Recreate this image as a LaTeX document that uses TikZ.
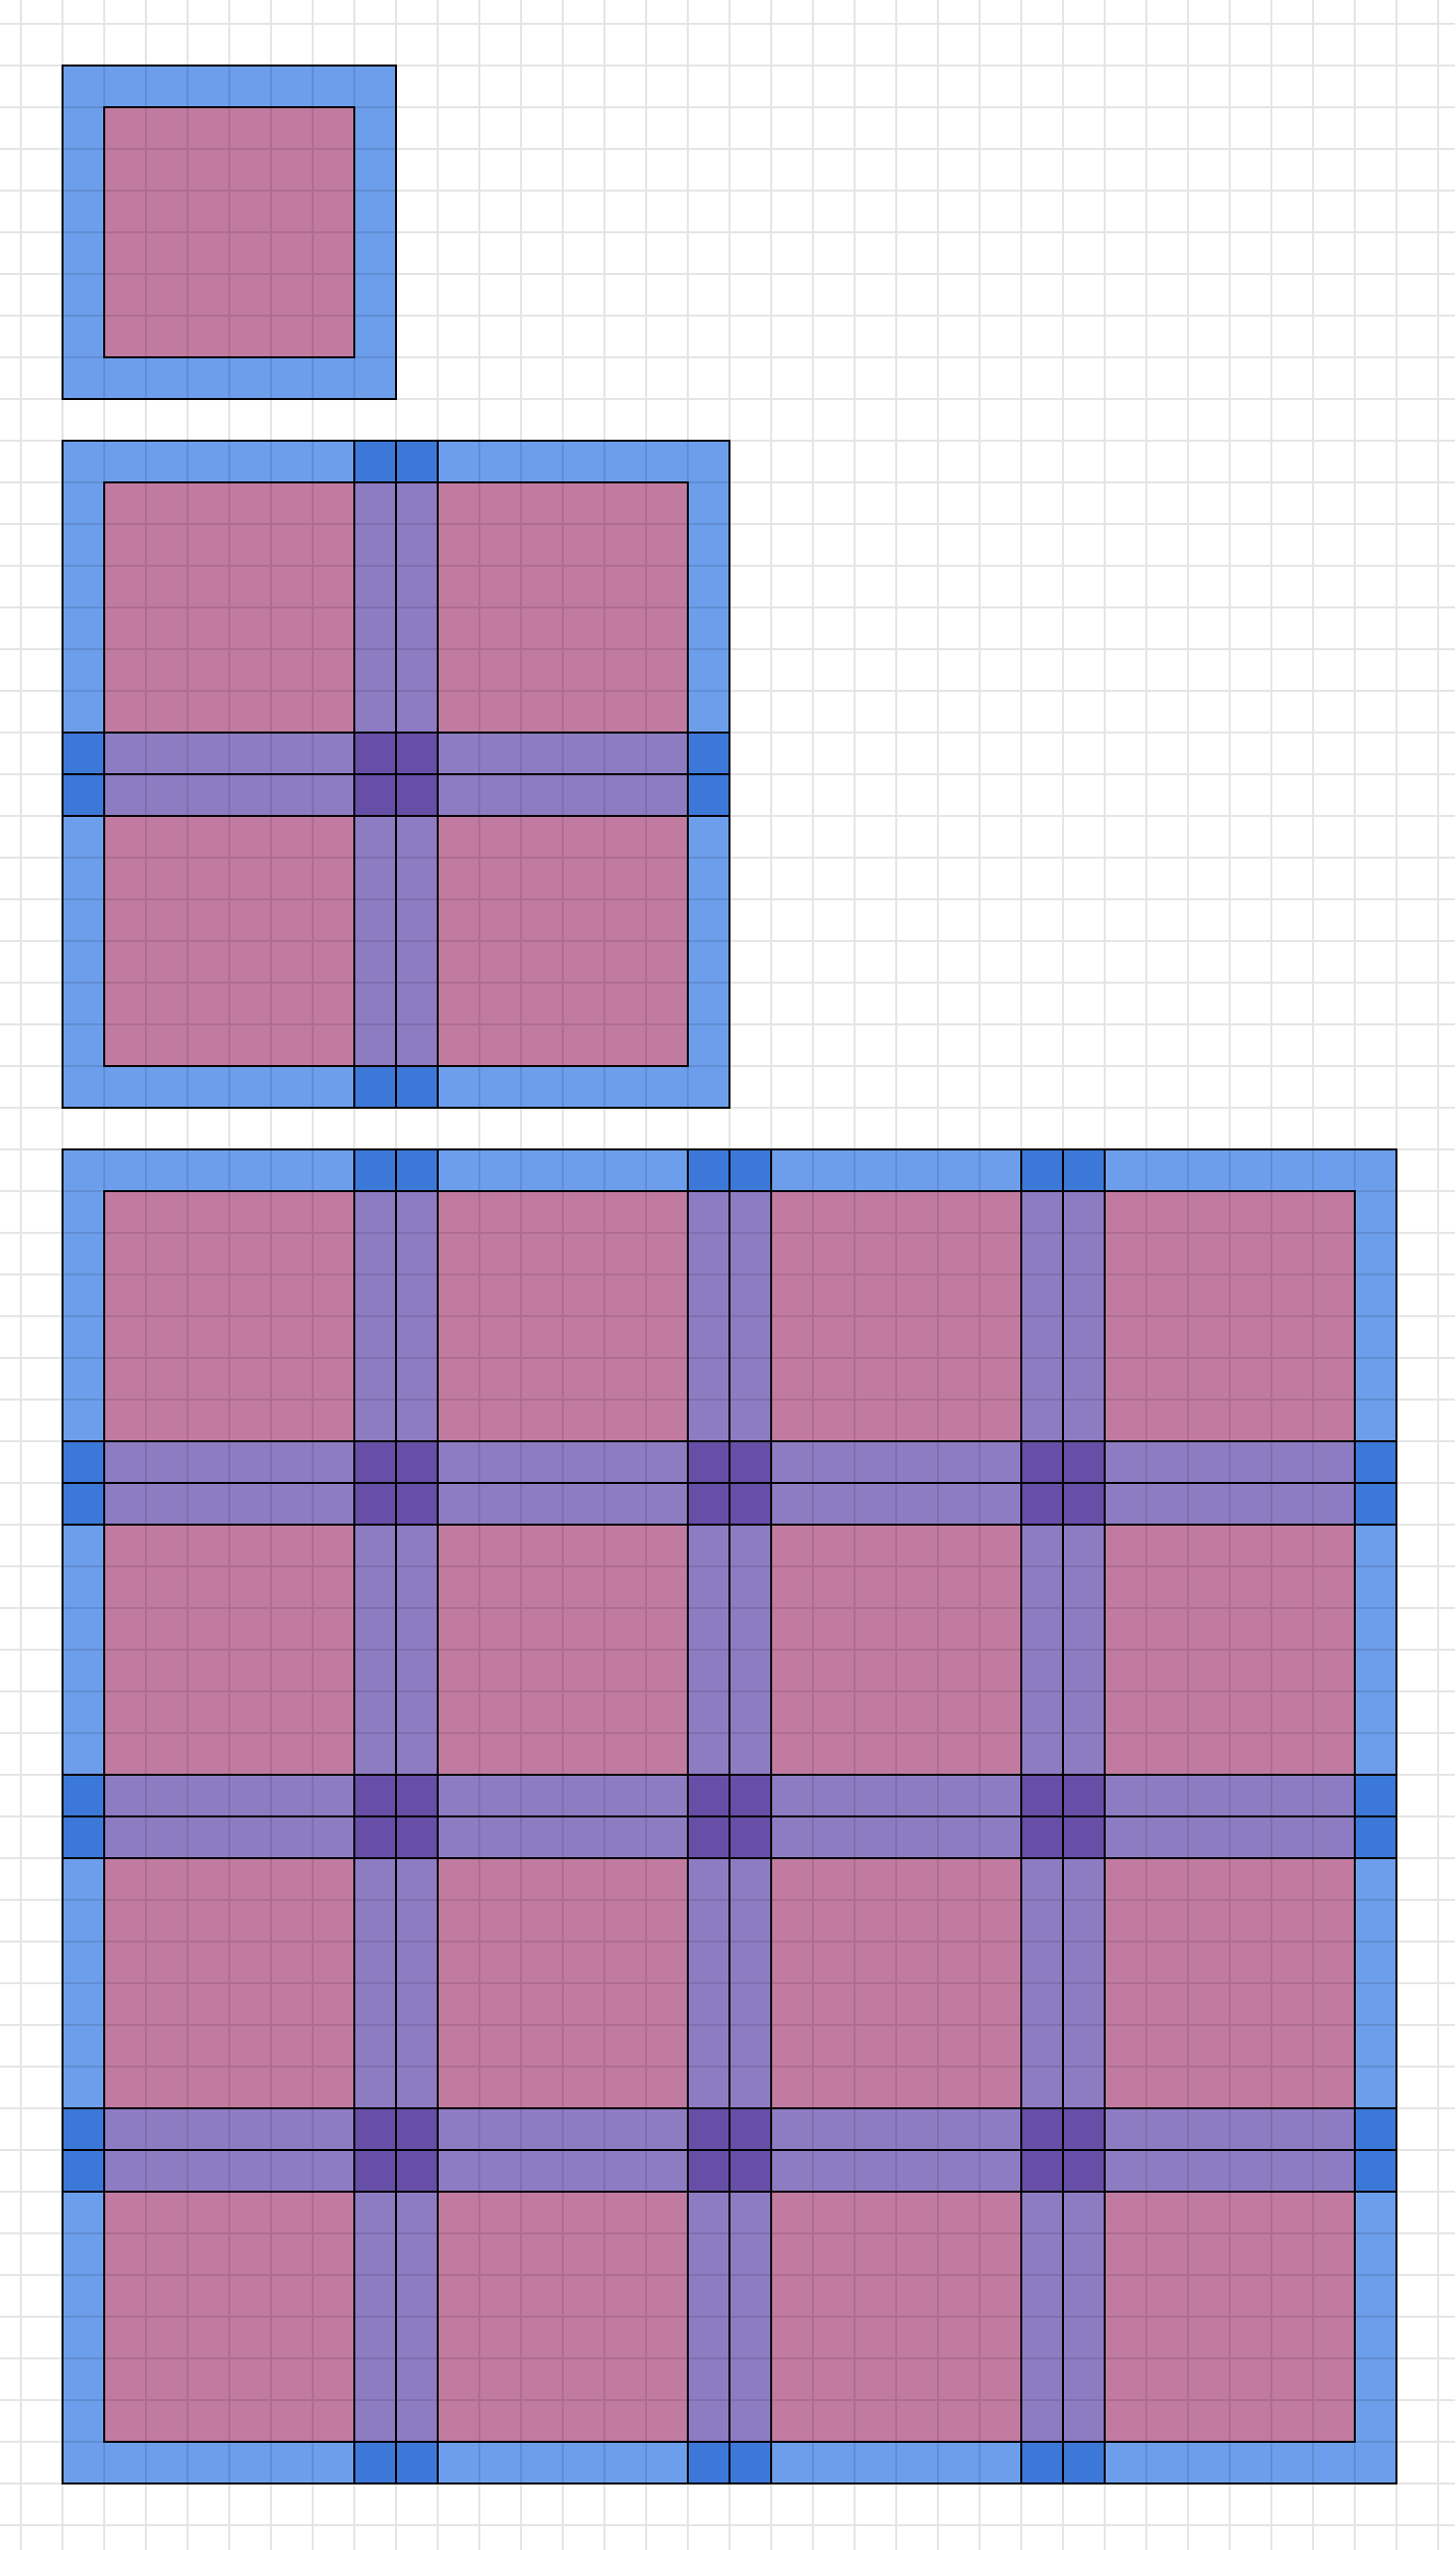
\documentclass[tikz,border=0pt]{standalone}
\usepackage{tikz}
\usepackage{xcolor}
\definecolor{TLBlue}{HTML}{6D9EEB}
\definecolor{TLBlueDark}{HTML}{3C78D8}
\definecolor{TLPink}{HTML}{C27BA0}
\definecolor{TLPurple}{HTML}{8E7CC3}
\definecolor{TLPurpleDark}{HTML}{674EA7}
% #1 left, #2 top, #3 side (cells), #4 band offsets
\newcommand{\TLTiles}[4]{%
  \fill[halo] (#1,#2) rectangle ++(#3,#3);
  \fill[core] ({#1+1},{#2+1}) rectangle ++({#3-2},{#3-2});
  \foreach \b in {#4} {
    \fill[haloband] ({#1+\b-1},#2) rectangle ++(2,#3);
    \fill[haloband] (#1,{#2+\b-1}) rectangle ++(#3,2);
    \fill[coreband] ({#1+\b-1},{#2+1}) rectangle ++(2,{#3-2});
    \fill[coreband] ({#1+1},{#2+\b-1}) rectangle ++({#3-2},2);
  }
  \foreach \b in {#4} \foreach \c in {#4}
    \fill[crossband] ({#1+\b-1},{#2+\c-1}) rectangle ++(2,2);
  \draw[edge] (#1,#2) rectangle ++(#3,#3);
  \draw[edge] ({#1+1},{#2+1}) rectangle ++({#3-2},{#3-2});
  \foreach \b in {#4} {
    \draw[edge] ({#1+\b-1},#2) rectangle ++(1,#3) ({#1+\b},#2) rectangle ++(1,#3);
    \draw[edge] (#1,{#2+\b-1}) rectangle ++(#3,1) (#1,{#2+\b}) rectangle ++(#3,1);
  }%
}

\begin{document}
\begin{tikzpicture}[
    x=0.42cm,y=-0.42cm,
    halo/.style={fill=TLBlue},
    core/.style={fill=TLPink},
    haloband/.style={fill=TLBlueDark},
    coreband/.style={fill=TLPurple},
    crossband/.style={fill=TLPurpleDark},
    edge/.style={draw=black,line width=0.8pt},
    gridline/.style={draw=black,draw opacity=0.1,line width=0.45pt}
  ]
    \useasboundingbox (-0.5,-0.5714) rectangle (34.4048,60.5952);
    \fill[white] (-0.5,-0.5714) rectangle (34.4048,60.5952);

    \TLTiles{1}{1}{8}{}
    \TLTiles{1}{10}{16}{8}
    \TLTiles{1}{27}{32}{8,16,24}

    % background lattice, laid over the fills
    \draw[gridline]
      foreach \i in {0,...,34} {(\i,-0.5714) -- (\i,60.5952)}
      foreach \j in {0,...,60} {(-0.5,\j) -- (34.4048,\j)};
  \end{tikzpicture}
\end{document}
